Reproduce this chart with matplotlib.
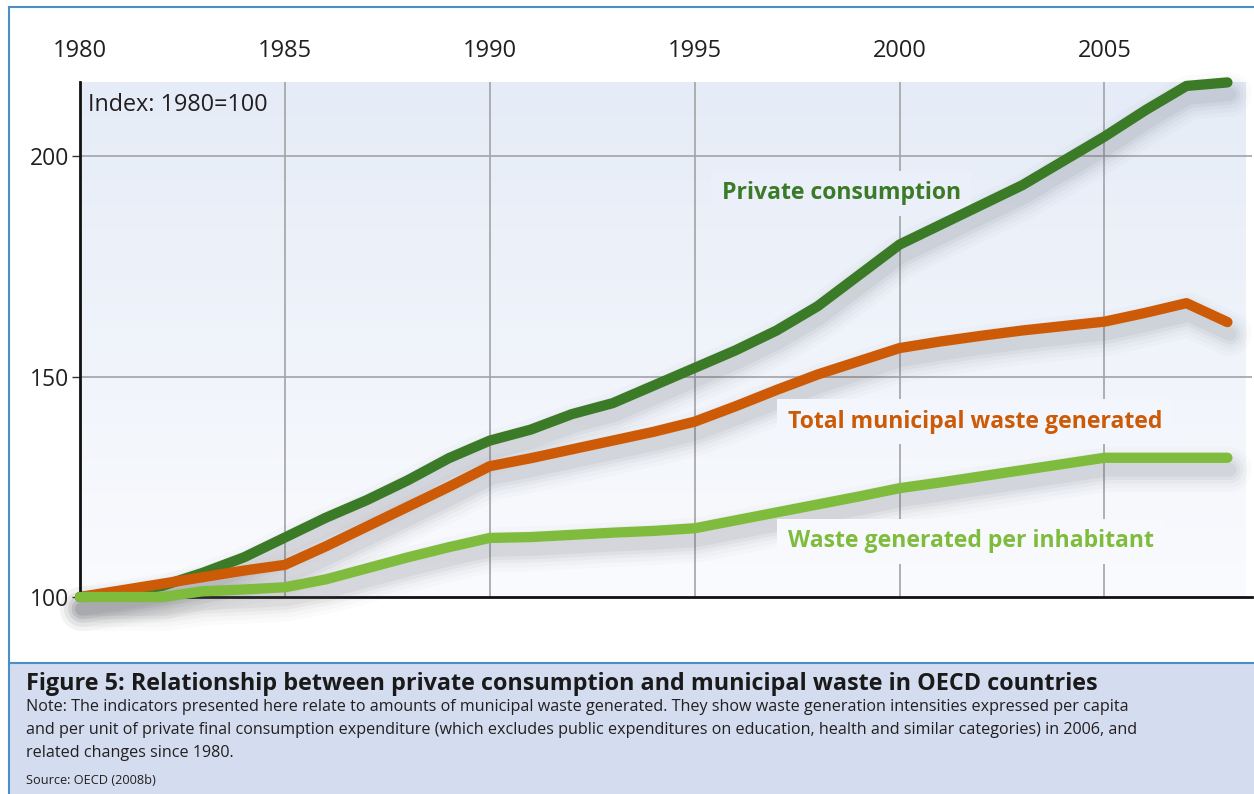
import numpy as np
import matplotlib
matplotlib.use("Agg")
import matplotlib.pyplot as plt
import matplotlib.transforms as mtransforms
from matplotlib.patches import Rectangle
from matplotlib.lines import Line2D

# ---------------- data ----------------
years = list(range(1980, 2009))
private_consumption = [100, 101, 102.5, 105.5, 109, 113.5, 118, 122, 126.5, 131.5,
                       135.5, 138, 141.5, 144, 148, 152, 156, 160.5, 166, 173,
                       180, 184.5, 189, 193.5, 199, 204.5, 210.5, 216, 216.8]
total_waste = [100, 101.5, 103, 104.5, 106, 107.3, 111.5, 116, 120.5, 125,
               129.7, 131.5, 133.5, 135.5, 137.5, 139.8, 143.3, 147, 150.5, 153.5,
               156.5, 158, 159.3, 160.5, 161.5, 162.5, 164.5, 166.7, 162.4]
waste_per_inhabitant = [100, 100, 100, 101.3, 101.7, 102.2, 104, 106.5, 109, 111.3,
                        113.4, 113.6, 114.1, 114.6, 115, 115.6, 117.4, 119.2, 121.0, 122.8,
                        124.7, 126, 127.4, 128.8, 130.2, 131.6, 131.6, 131.6, 131.6]
x_ticks = [1980, 1985, 1990, 1995, 2000, 2005]
y_ticks = [100, 150, 200]
series_names = ["Private consumption", "Total municipal waste generated",
                "Waste generated per inhabitant"]
index_note = "Index: 1980=100"
title = "Figure 5: Relationship between private consumption and municipal waste in OECD countries"
note_lines = ["Note: The indicators presented here relate to amounts of municipal waste generated. They show waste generation intensities expressed per capita",
              "and per unit of private final consumption expenditure (which excludes public expenditures on education, health and similar categories) in 2006, and",
              "related changes since 1980."]
source = "Source: OECD (2008b)"

# ---------------- style ----------------
C_DARK = "#3b7a27"
C_ORANGE = "#cc5a06"
C_LIGHT = "#7fbc3d"
C_TEXT = "#231f20"
C_BORDER = "#4b8fc6"
C_CAPTION = "#d4ddef"
TOP_RGB = np.array([229, 236, 247]) / 255
BOT_RGB = np.array([250, 251, 254]) / 255
FONT = "Open Sans"

XMIN, XMAX = 1980, 2008.6
YMIN, YMAX = 100, 216.9

fig = plt.figure(figsize=(12.54, 7.94), dpi=100)
fig.patch.set_facecolor("white")

# outer border and caption box
fig.add_artist(Rectangle((9/1254, 0), 1 - 9/1254, 131/794, transform=fig.transFigure,
                         facecolor=C_CAPTION, edgecolor="none", zorder=0))
fig.add_artist(Line2D([9/1254, 1], [131/794, 131/794], transform=fig.transFigure,
                      color=C_BORDER, lw=1.5))
fig.add_artist(Line2D([9/1254, 1], [1 - 7/794, 1 - 7/794], transform=fig.transFigure,
                      color=C_BORDER, lw=1.5))
fig.add_artist(Line2D([9/1254, 9/1254], [0, 1 - 7/794], transform=fig.transFigure,
                      color=C_BORDER, lw=1.5))

ax = fig.add_axes([80/1254, 1 - 597/794, 1172/1254, (597 - 82)/794])
ax.set_facecolor("none")
ax.set_xlim(XMIN, XMAX)
ax.set_ylim(YMIN, YMAX)

# gradient background
grad = np.linspace(0, 1, 256)[:, None]
img = TOP_RGB[None, None, :] * (1 - grad[..., None]) + BOT_RGB[None, None, :] * grad[..., None]
ax.imshow(img, extent=[XMIN, 2008.45, YMIN, YMAX], aspect="auto", origin="upper", zorder=0)

def bg_at(y):
    f = (YMAX - y) / (YMAX - YMIN)
    return tuple(TOP_RGB * (1 - f) + BOT_RGB * f)

# grid
for xv in x_ticks[1:]:
    ax.axvline(xv, color="#a3a3a6", lw=1.2, zorder=1)
for yv in y_ticks[1:]:
    ax.axhline(yv, color="#a3a3a6", lw=1.2, zorder=1)

# spines / ticks
for s in ["top", "right"]:
    ax.spines[s].set_visible(False)
ax.spines["left"].set_linewidth(2.0)
ax.spines["bottom"].set_linewidth(2.0)
ax.spines["left"].set_color("#111111")
ax.spines["bottom"].set_color("#111111")
ax.spines["left"].set_zorder(6)
ax.spines["bottom"].set_zorder(2)

ax.set_xticks(x_ticks)
ax.set_xticklabels([str(v) for v in x_ticks])
ax.xaxis.tick_top()
ax.tick_params(axis="x", length=0, pad=14, labelsize=17, labelcolor=C_TEXT)
ax.set_yticks(y_ticks)
ax.set_yticklabels([str(v) for v in y_ticks])
ax.tick_params(axis="y", length=6, width=1.0, pad=1.5, labelsize=16.5, labelcolor=C_TEXT,
               color="#333333")
for lab in ax.get_xticklabels() + ax.get_yticklabels():
    lab.set_fontfamily(FONT)

# soft drop shadows
shadow_tr = mtransforms.offset_copy(ax.transData, fig=fig, x=1.5, y=-8.5, units="points")
series = [(private_consumption, C_DARK), (total_waste, C_ORANGE), (waste_per_inhabitant, C_LIGHT)]
for vals, col in series:
    for lw, a in [(32, 0.022), (26, 0.032), (20, 0.045), (15, 0.06), (10, 0.07)]:
        ax.plot(years, vals, color="#5c5f66", lw=lw, alpha=a, solid_capstyle="round",
                solid_joinstyle="round", transform=shadow_tr, zorder=3, clip_on=False)

# lines
for i, (vals, col) in enumerate(series):
    ax.plot(years, vals, color=col, lw=7.4, solid_capstyle="round", solid_joinstyle="round",
            zorder=5 + i, clip_on=False)

# labels
label_pos = [(1995.66, 191.6, C_DARK), (1997.27, 139.8, C_ORANGE), (1997.27, 112.6, C_LIGHT)]
for name, (lx, ly, col) in zip(series_names, label_pos):
    ax.text(lx, ly, name, color=col, fontsize=16.6, fontweight="bold", family=FONT,
            va="center", ha="left", zorder=4,
            bbox=dict(boxstyle="square,pad=0.45", facecolor=bg_at(ly), edgecolor="none"))

ax.text(1980.2, 211.6, index_note, fontsize=16.8, family=FONT, color=C_TEXT,
        va="center", ha="left", zorder=4)

# caption texts
fig.text(26/1254, 1 - 684/794, title, fontsize=16.85, fontweight="bold", family=FONT,
         color="#1a1a1a", va="center", ha="left")
for k, line in enumerate(note_lines):
    fig.text(26/1254, 1 - (707 + 23 * k)/794, line, fontsize=11.6, family=FONT,
             color=C_TEXT, va="center", ha="left")
fig.text(26/1254, 1 - 781/794, source, fontsize=9.2, family=FONT,
         color=C_TEXT, va="center", ha="left")

fig.savefig("out.png", dpi=100)
